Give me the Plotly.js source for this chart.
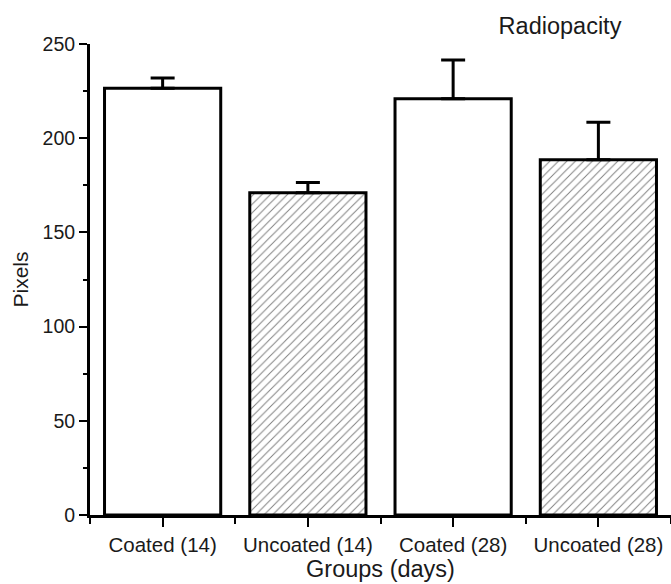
<!DOCTYPE html>
<html>
<head>
<meta charset="utf-8">
<script src="https://cdn.plot.ly/plotly-3.0.1.min.js"></script>
<style>html,body{margin:0;padding:0;background:#fff;} #chart{width:671px;height:584px;}</style>
</head>
<body>
<div id="chart"></div>
<script>
var categories = ["Coated (14)", "Uncoated (14)", "Coated (28)", "Uncoated (28)"];
var pixels = [226.5, 171, 221, 188.5];
var errorUp = [5.5, 5.5, 20.5, 20];
var hatched = [false, true, false, true];
var yTicks = [0, 50, 100, 150, 200, 250];

var positions = categories.map(function (c, i) { return i; });
var boundaries = [-0.5].concat(positions.map(function (p) { return p + 0.5; }));

var trace = {
  type: "bar",
  x: positions,
  y: pixels,
  width: 0.8,
  marker: {
    color: "#ffffff",
    line: { color: "#000000", width: 3 },
    pattern: {
      shape: hatched.map(function (h) { return h ? "/" : ""; }),
      fgcolor: "#808080",
      bgcolor: "#ffffff",
      size: 6,
      solidity: 0.16
    }
  },
  error_y: {
    type: "data",
    symmetric: false,
    array: errorUp,
    arrayminus: errorUp.map(function () { return 0; }),
    color: "#000000",
    thickness: 3,
    width: 12
  },
  hoverinfo: "skip"
};

var font = { family: "Liberation Sans, Arial, sans-serif", color: "#1a1a1a" };

var layout = {
  width: 671,
  height: 584,
  margin: { l: 90, r: 0, t: 44, b: 69, pad: 0 },
  paper_bgcolor: "#ffffff",
  plot_bgcolor: "#ffffff",
  showlegend: false,
  font: font,
  title: {
    text: "Radiopacity",
    font: { family: font.family, color: font.color, size: 23.5 },
    xref: "container", yref: "container",
    x: 560 / 671, xanchor: "center",
    y: 1 - 26 / 584, yanchor: "middle"
  },
  xaxis: {
    range: [-0.5, 3.5],
    tickmode: "array",
    tickvals: positions,
    ticktext: categories,
    showline: true, linecolor: "#000000", linewidth: 3,
    ticks: "outside", ticklen: 9, tickwidth: 2, tickcolor: "#000000",
    minor: { tickmode: "array", tickvals: boundaries, ticks: "outside", ticklen: 6, tickwidth: 2, tickcolor: "#000000" },
    showgrid: false, zeroline: false,
    tickfont: { family: font.family, color: font.color, size: 20.5 },
    title: { text: "Groups (days)", font: { family: font.family, color: font.color, size: 23.5 }, standoff: 2 },
    fixedrange: true
  },
  yaxis: {
    range: [0, 250],
    tickmode: "array",
    tickvals: yTicks,
    showline: true, linecolor: "#000000", linewidth: 3,
    ticks: "outside", ticklen: 8, tickwidth: 2, tickcolor: "#000000",
    minor: { dtick: 25, tick0: 0, ticks: "outside", ticklen: 4, tickwidth: 2, tickcolor: "#000000" },
    showgrid: false, zeroline: false,
    tickfont: { family: font.family, color: font.color, size: 19.5 },
    title: { text: "Pixels", font: { family: font.family, color: font.color, size: 21 }, standoff: 9 },
    fixedrange: true
  }
};

Plotly.newPlot("chart", [trace], layout, { displayModeBar: false, staticPlot: true });
</script>
</body>
</html>
